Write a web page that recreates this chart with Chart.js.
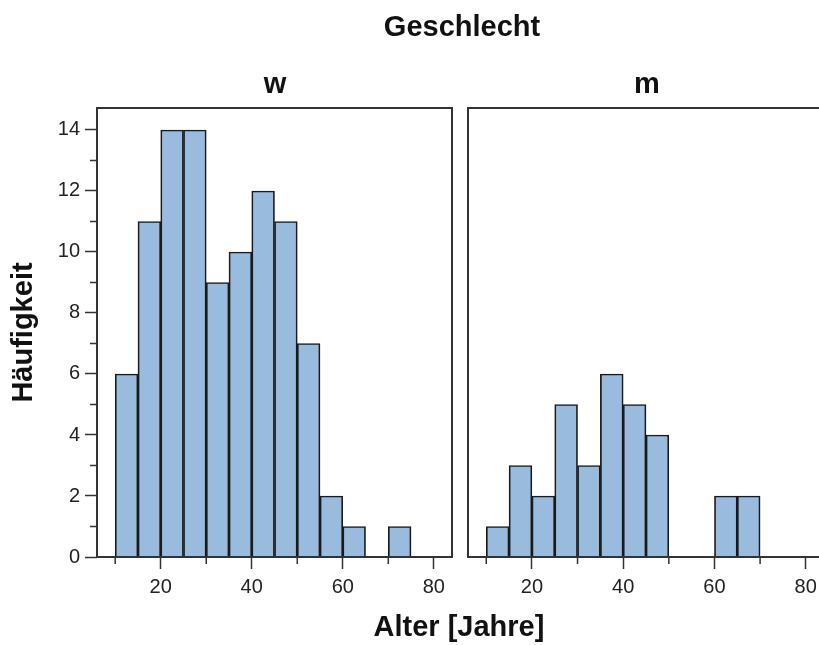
<!DOCTYPE html>
<html lang="de">
<head>
    <meta charset="UTF-8">
    <meta name="viewport" content="width=device-width, initial-scale=1.0">
    <title>Alter nach Geschlecht</title>
    <script src="https://cdn.jsdelivr.net/npm/chart.js"></script>
    <style>
        html, body { margin: 0; padding: 0; background: #fff; overflow: hidden; }
        body { width: 819px; height: 645px; position: relative; font-family: "Liberation Sans", Arial, sans-serif; color: #111; }
        .lbl { position: absolute; width: 240px; text-align: center; font-weight: bold; font-size: 29px; line-height: 29px; }
        #wrapW { position: absolute; left: 0; top: 0; }
        #wrapM { position: absolute; left: 462px; top: 0; }
    </style>
</head>
<body>
    <div id="wrapW"><canvas id="chartW" width="462" height="645"></canvas></div>
    <div id="wrapM"><canvas id="chartM" width="372" height="645"></canvas></div>
    <div class="lbl" style="left:342px; top:12px;">Geschlecht</div>
    <div class="lbl" style="left:155px; top:69px;">w</div>
    <div class="lbl" style="left:527px; top:69px;">m</div>
    <div class="lbl" style="left:339px; top:612px;">Alter [Jahre]</div>
    <script>
        // bin centres (5-year bins) and counts per panel
        const binCenters = [12.5, 17.5, 22.5, 27.5, 32.5, 37.5, 42.5, 47.5, 52.5, 57.5, 62.5, 67.5, 72.5];
        const countsW = [6, 11, 14, 14, 9, 10, 12, 11, 7, 2, 1, 0, 1];
        const countsM = [1, 3, 2, 5, 3, 6, 5, 4, 0, 0, 2, 2, 0];

        const xMajorTicks = [20, 40, 60, 80];
        const xMinorTicks = [10, 30, 50, 70];
        const yMajorTicks = [0, 2, 4, 6, 8, 10, 12, 14];
        const yMinorTicks = [1, 3, 5, 7, 9, 11, 13];

        Chart.defaults.font.family = '"Liberation Sans", Arial, sans-serif';

        // frame around the panel + short minor ticks
        const panelBox = {
            id: 'panelBox',
            afterDraw(chart) {
                const { ctx, chartArea: a, scales } = chart;
                ctx.save();
                ctx.strokeStyle = '#333';
                ctx.lineWidth = 2;
                ctx.strokeRect(a.left, a.top, a.right - a.left, a.bottom - a.top);
                ctx.lineWidth = 1.5;
                ctx.beginPath();
                xMinorTicks.forEach(v => {
                    const px = scales.x.getPixelForValue(v);
                    ctx.moveTo(px, a.bottom);
                    ctx.lineTo(px, a.bottom + 7);
                });
                if (scales.y.options.display) {
                    yMinorTicks.forEach(v => {
                        const py = scales.y.getPixelForValue(v);
                        ctx.moveTo(a.left, py);
                        ctx.lineTo(a.left - 7, py);
                    });
                }
                ctx.stroke();
                ctx.restore();
            }
        };

        function makePanel(id, counts, showY, padLeft) {
            const ctx = document.getElementById(id).getContext('2d');
            return new Chart(ctx, {
                type: 'bar',
                data: {
                    datasets: [{
                        data: binCenters.map((x, i) => ({ x: x, y: counts[i] })),
                        backgroundColor: '#99bbdd',
                        borderColor: '#1a1a1a',
                        borderWidth: 1.7,
                        barPercentage: 1,
                        categoryPercentage: 1
                    }]
                },
                options: {
                    responsive: false,
                    animation: false,
                    layout: { padding: { top: 108, right: 10, bottom: 0, left: padLeft } },
                    plugins: { legend: { display: false }, tooltip: { enabled: false } },
                    scales: {
                        x: {
                            type: 'linear',
                            min: 6,
                            max: 84,
                            offset: false,
                            afterBuildTicks: s => { s.ticks = xMajorTicks.map(v => ({ value: v })); },
                            afterFit: s => { s.height = 88; },
                            border: { display: false },
                            grid: { offset: false, drawOnChartArea: false, drawTicks: true, tickLength: 12, tickColor: '#333', tickWidth: 1.5 },
                            ticks: { font: { size: 20 }, color: '#222', padding: 6, maxRotation: 0, autoSkip: false }
                        },
                        y: {
                            display: showY,
                            min: 0,
                            max: 14.72,
                            afterBuildTicks: s => { s.ticks = yMajorTicks.map(v => ({ value: v })); },
                            afterFit: s => { s.width = showY ? 97 : 0; },
                            border: { display: false },
                            grid: { drawOnChartArea: false, drawTicks: true, tickLength: 12, tickColor: '#333', tickWidth: 1.5 },
                            ticks: { font: { size: 20 }, color: '#222', padding: 5 },
                            title: {
                                display: true,
                                text: 'Häufigkeit',
                                color: '#111',
                                font: { size: 29, weight: 'bold' },
                                padding: { top: 7, bottom: 0 }
                            }
                        }
                    }
                },
                plugins: [panelBox]
            });
        }

        makePanel('chartW', countsW, true, 0);
        makePanel('chartM', countsM, false, 6);
    </script>
</body>
</html>
